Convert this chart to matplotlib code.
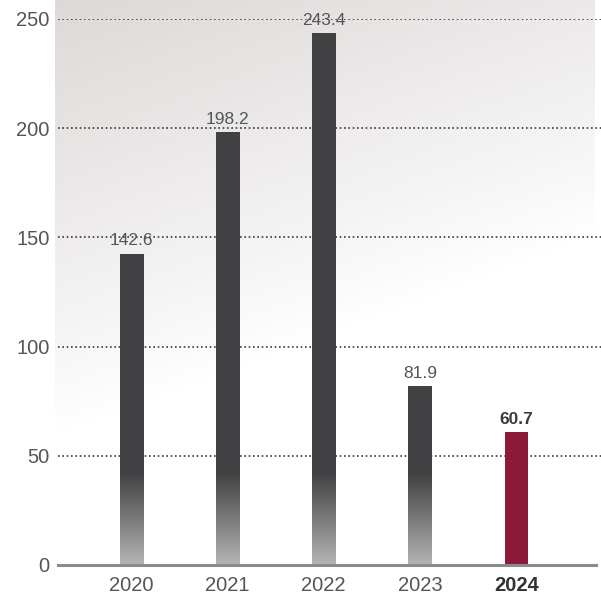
import numpy as np
import matplotlib
matplotlib.use("Agg")
import matplotlib.pyplot as plt
from matplotlib.colors import LinearSegmentedColormap

years = ["2020", "2021", "2022", "2023", "2024"]
values = [142.6, 198.2, 243.4, 81.9, 60.7]
yticks = [0, 50, 100, 150, 200, 250]

plt.rcParams['font.family'] = ['Liberation Sans', 'DejaVu Sans']

W, H = 601, 600
fig = plt.figure(figsize=(W / 100, H / 100), dpi=100)
fig.patch.set_facecolor('white')

# faded background panel (pixel region x 55..595, y 0..565)
x0, x1, y0, y1 = 55, 595, 0, 565
bg = fig.add_axes([x0 / W, (H - y1) / H, (x1 - x0) / W, (y1 - y0) / H], zorder=0)
py, px = np.mgrid[y0:y1, x0:x1].astype(float)
d = py + 0.37 * (px - 55) - 433
t = np.clip(-d / 433.0, 0, 1) ** 0.9
tint = np.array([0.865, 0.85, 0.848])
img = 1 - (1 - tint)[None, None, :] * t[..., None]
bg.imshow(img, aspect='auto', extent=[0, 1, 0, 1], origin='upper')
bg.set_axis_off()

ax = fig.add_axes([58 / W, 35 / H, 1 - 58 / W, (565 - 19) / H], zorder=1)
ax.patch.set_alpha(0)
x = np.arange(len(years))

for yv in yticks[1:]:
    ax.axhline(yv, color='#3a3a3a', lw=1.2, ls=(0, (1, 1.6)), zorder=1)

grad_cmap = LinearSegmentedColormap.from_list('g', ['#b4b4b4', '#7a7a7b', '#414042'])
bw = 0.24
colors = ['grad'] * 4 + ['#8c1a3a']
for i, v in enumerate(values):
    if colors[i] == 'grad':
        bar = ax.bar(x[i], v, width=bw, color='none', zorder=2)[0]
        g = np.linspace(0, 1, 256)
        col = np.clip(g * v / 42.0, 0, 1)[:, None]
        im = ax.imshow(col, cmap=grad_cmap, vmin=0, vmax=1, aspect='auto',
                       extent=[x[i] - bw / 2, x[i] + bw / 2, 0, v],
                       origin='lower', zorder=2)
        im.set_clip_path(bar)
    else:
        ax.bar(x[i], v, width=bw, color=colors[i], zorder=2)
ax.set_xlim(-0.76, 4.88)
ax.set_ylim(0, 250)

for i, v in enumerate(values):
    last = i == len(values) - 1
    ax.annotate(f"{v}", (x[i], v), xytext=(0, 4), textcoords='offset points',
                ha='center', va='bottom', fontsize=12.5,
                color='#3a3a3a' if last else '#555555',
                fontweight='bold' if last else 'normal', zorder=3)

ax.set_yticks(yticks)
ax.set_yticklabels([str(t) for t in yticks], fontsize=14.5, color='#555555')
ax.set_xticks(x)
ax.set_xticklabels(years, fontsize=14.5, color='#555555')
lbl = ax.get_xticklabels()[-1]
lbl.set_fontweight('bold')
lbl.set_color('#333333')
ax.tick_params(axis='both', length=0)
ax.tick_params(axis='y', pad=6)
ax.tick_params(axis='x', pad=8)
for s in ['top', 'right', 'left']:
    ax.spines[s].set_visible(False)
ax.spines['bottom'].set_color('#8a8a8a')
ax.spines['bottom'].set_linewidth(2.2)
ax.spines['bottom'].set_zorder(4)
ax.spines['bottom'].set_bounds(-0.76, 4.83)

fig.savefig('out.png', dpi=100, facecolor='white')
